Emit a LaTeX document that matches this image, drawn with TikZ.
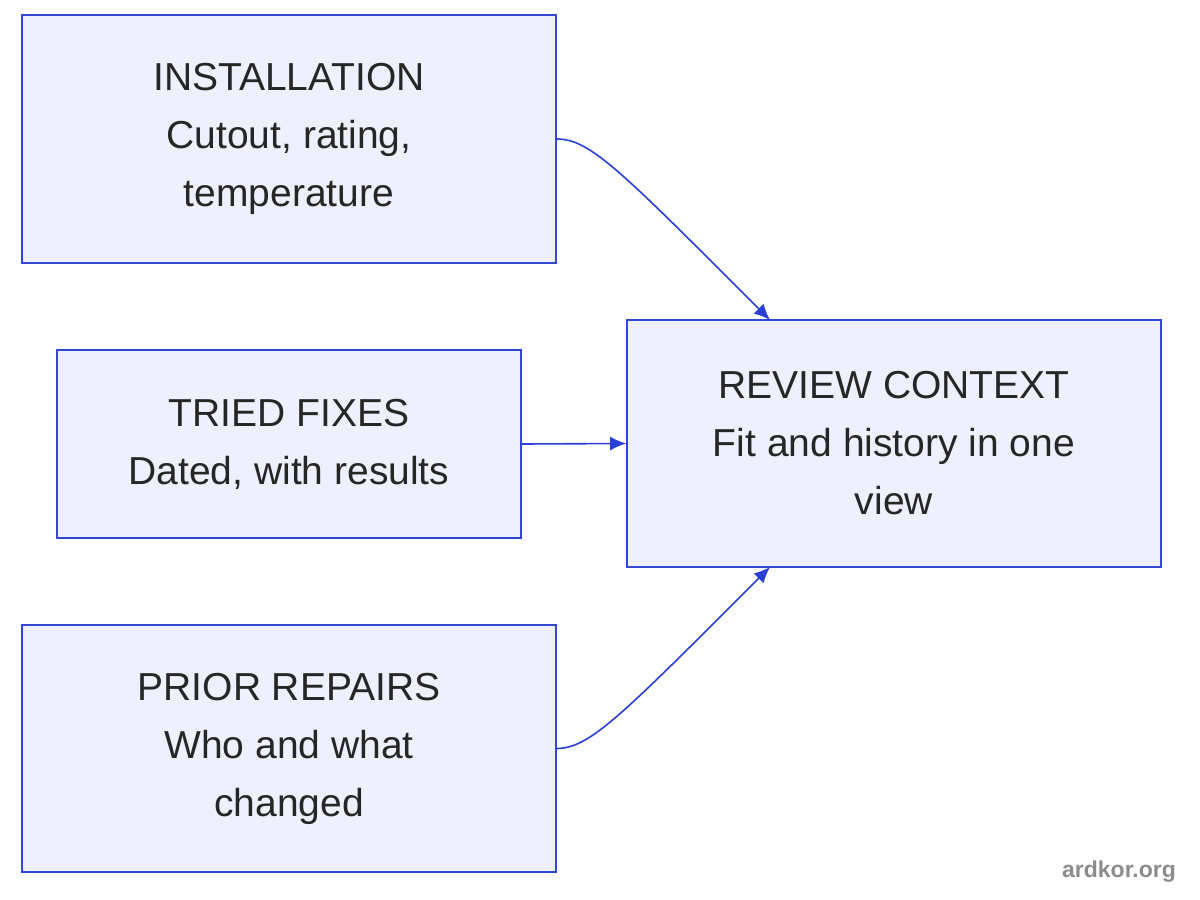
\documentclass[tikz,border=0pt]{standalone}
\usepackage{fontspec}
\setmainfont{Liberation Sans}
\usetikzlibrary{arrows.meta}
\definecolor{bfill}{HTML}{EEF0FD}
\definecolor{bline}{HTML}{3347D6}
\definecolor{aline}{HTML}{2A3FD6}
\begin{document}
\begin{tikzpicture}[x=0.5pt,y=-0.5pt,
 box/.style={draw=bline,fill=bfill,line width=0.8pt,align=center,inner sep=0pt,
  font=\fontsize{19.5pt}{29pt}\selectfont,text=black!85},
 arr/.style={draw=aline,line width=0.8pt,-{Latex[length=8pt,width=7pt]}}]
\useasboundingbox (0,0) rectangle (1200,900);
\node[box,minimum width=267pt,minimum height=124pt] (a) at (289,139) {INSTALLATION\\Cutout, rating,\\temperature};
\node[box,minimum width=232pt,minimum height=94pt] (b) at (289,444) {TRIED FIXES\\Dated, with results};
\node[box,minimum width=267pt,minimum height=123.5pt] (c) at (289,748.5) {PRIOR REPAIRS\\Who and what\\changed};
\node[box,minimum width=267pt,minimum height=123.5pt] (d) at (894,443.5) {REVIEW CONTEXT\\Fit and history in one\\view};
\coordinate (dt) at (770,320);
\coordinate (db) at (770,567);
\draw[arr] (a.east) .. controls (590,139) and (620,170) .. (dt);
\draw[arr] (b.east) -- (d.west);
\draw[arr] (c.east) .. controls (590,748) and (620,717) .. (db);
\node[font=\bfseries\fontsize{11.5pt}{14pt}\selectfont,text=black!45] (w) at (1119,872) {ardkor.org};
\end{tikzpicture}
\end{document}
